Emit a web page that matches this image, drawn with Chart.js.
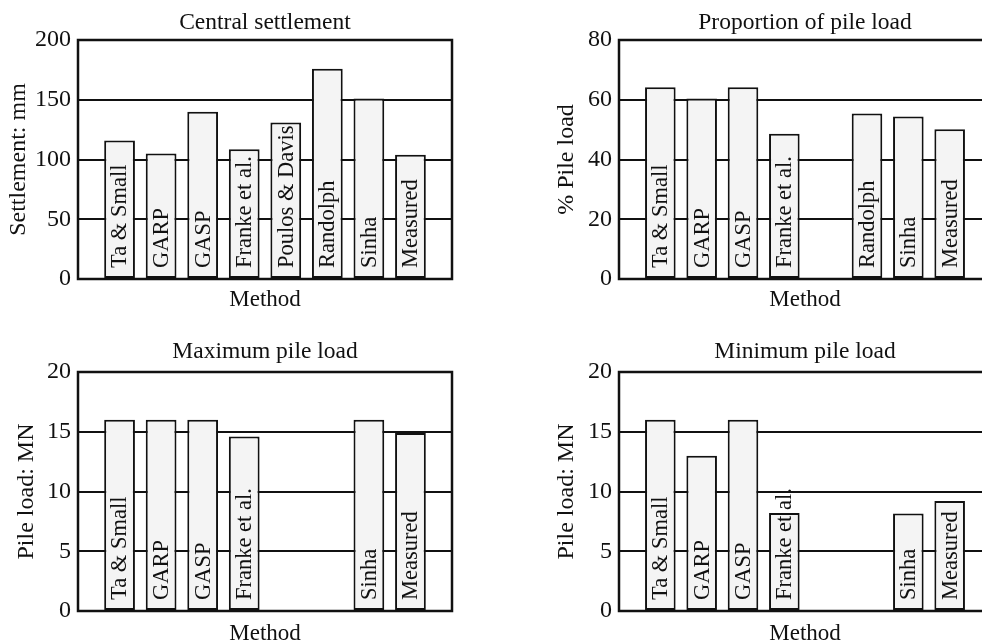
<!DOCTYPE html>
<html>
<head>
<meta charset="utf-8">
<script src="https://cdn.jsdelivr.net/npm/chart.js@4.4.1/dist/chart.umd.min.js"></script>
<style>
  html, body { margin: 0; padding: 0; background: #fff; overflow: hidden; }
  body { width: 982px; height: 641px; position: relative; }
  canvas { position: absolute; }
</style>
</head>
<body>
<canvas id="c1" width="491" height="320" style="left:0px;top:0px"></canvas>
<canvas id="c2" width="460" height="320" style="left:541px;top:0px"></canvas>
<canvas id="c3" width="491" height="320" style="left:0px;top:332px"></canvas>
<canvas id="c4" width="460" height="320" style="left:541px;top:332px"></canvas>
<script>
'use strict';

// data
let methods = ['Ta & Small', 'GARP', 'GASP', 'Franke et al.', 'Poulos & Davis', 'Randolph', 'Sinha', 'Measured'];

let settlement = [116, 105, 140, 108.5, 131, 176, 151, 104];
let pileShare = [64.2, 60.4, 64.2, 48.6, null, 55.4, 54.4, 50.1];
let maxLoad = [16, 16, 16, 14.6, null, null, 16, 14.9];
let minLoad = [16, 13, 16, 8.2, null, null, 8.15, 9.2];

let settlementTicks = [0, 50, 100, 150, 200];
let shareTicks = [0, 20, 40, 60, 80];
let loadTicks = [0, 5, 10, 15, 20];

const serif = "'Liberation Serif', 'Times New Roman', serif";
Chart.defaults.font.family = serif;
Chart.defaults.color = '#111';

// frame round the plot area
const framePlugin = {
  id: 'frame',
  afterDraw(chart) {
    let a = chart.chartArea;
    let ctx = chart.ctx;
    ctx.save();
    ctx.strokeStyle = '#111';
    ctx.lineWidth = 2.5;
    ctx.strokeRect(a.left, a.top, a.right - a.left, a.bottom - a.top);
    ctx.restore();
  }
};

// method names written up inside each bar
const barLabels = {
  id: 'barLabels',
  afterDatasetsDraw(chart) {
    let ctx = chart.ctx;
    let meta = chart.getDatasetMeta(0);
    let names = chart.data.labels;
    let values = chart.data.datasets[0].data;
    ctx.save();
    ctx.font = '22.5px ' + serif;
    ctx.fillStyle = '#111';
    ctx.textAlign = 'left';
    ctx.textBaseline = 'middle';
    meta.data.forEach((bar, i) => {
      if (values[i] === null) return;
      ctx.save();
      ctx.translate(bar.x + 1, chart.chartArea.bottom - 11);
      ctx.rotate(-Math.PI / 2);
      ctx.fillText(names[i], 0, 0);
      ctx.restore();
    });
    ctx.restore();
  }
};

function makeChart(id, title, yTitle, values, ticks, opts) {
  // empty slot at each end so the bars sit one step in from the frame
  let labels = [''].concat(methods, ['']);
  let data = [null].concat(values, [null]);
  let ctx = document.getElementById(id).getContext('2d');
  return new Chart(ctx, {
    type: 'bar',
    data: {
      labels: labels,
      datasets: [{
        data: data,
        xAxisID: 'x',
        backgroundColor: '#f4f4f4',
        borderColor: '#111',
        borderWidth: 2,
        borderSkipped: false,
        barPercentage: 1,
        categoryPercentage: 0.74
      }]
    },
    plugins: [framePlugin, barLabels],
    options: {
      responsive: false,
      animation: false,
      devicePixelRatio: 1,
      layout: { padding: { left: 0, right: opts.padRight, top: 0, bottom: 0 } },
      plugins: {
        legend: { display: false },
        tooltip: { enabled: false }
      },
      scales: {
        // top axis only carries the chart title, centred over the plot
        top: {
          type: 'category',
          position: 'top',
          offset: false,
          grid: { display: false, drawTicks: false },
          border: { display: false },
          ticks: { display: false },
          title: {
            display: true,
            text: title,
            color: '#111',
            font: { size: 23.5, family: serif },
            padding: { top: opts.titleTop, bottom: 0 }
          },
          afterFit(scale) { scale.height = 40; }
        },
        x: {
          type: 'category',
          offset: false,
          grid: { display: false, drawTicks: false },
          border: { display: false },
          ticks: { display: false },
          title: {
            display: true,
            text: 'Method',
            color: '#111',
            font: { size: 23, family: serif },
            padding: { top: 0, bottom: opts.methodPad }
          },
          afterFit(scale) { scale.height = 41; }
        },
        y: {
          min: ticks[0],
          max: ticks[ticks.length - 1],
          afterBuildTicks(scale) { scale.ticks = ticks.map(v => ({ value: v })); },
          grid: { color: '#111', lineWidth: 2, drawTicks: false },
          border: { display: false },
          ticks: {
            padding: 7,
            color: '#111',
            font: { size: 24, family: serif }
          },
          title: {
            display: true,
            text: yTitle,
            color: '#111',
            font: { size: 24, family: serif },
            padding: { top: opts.yTitlePad, bottom: 0 }
          },
          afterFit(scale) { scale.width = 78; }
        }
      }
    }
  });
}

makeChart('c1', 'Central settlement', 'Settlement: mm', settlement, settlementTicks,
  { padRight: 39, titleTop: 9, methodPad: 6, yTitlePad: 4 });
makeChart('c2', 'Proportion of pile load', '% Pile load', pileShare, shareTicks,
  { padRight: 10, titleTop: 9, methodPad: 6, yTitlePad: 11 });
makeChart('c3', 'Maximum pile load', 'Pile load: MN', maxLoad, loadTicks,
  { padRight: 39, titleTop: 6, methodPad: 4, yTitlePad: 12 });
makeChart('c4', 'Minimum pile load', 'Pile load: MN', minLoad, loadTicks,
  { padRight: 10, titleTop: 6, methodPad: 4, yTitlePad: 11 });
</script>
</body>
</html>
